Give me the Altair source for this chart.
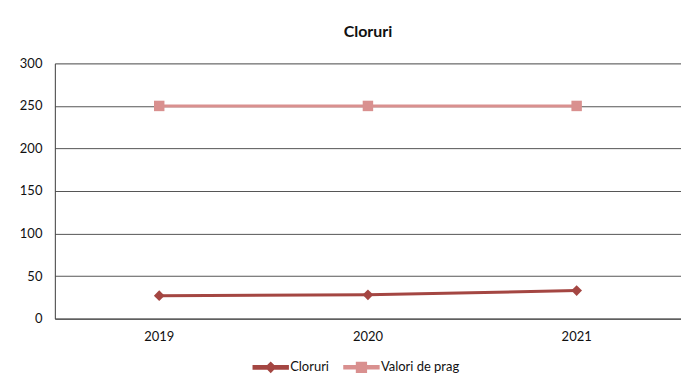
import altair as alt
import pandas as pd

years = ["2019", "2020", "2021"]
cloruri = [27, 28, 33]
prag = [250, 250, 250]
series = ["Cloruri", "Valori de prag"]
colors = ["#A44642", "#D9908F"]

rows = []
for y, v in zip(years, cloruri):
    rows.append({"An": y, "Valoare": v, "Serie": series[0]})
for y, v in zip(years, prag):
    rows.append({"An": y, "Valoare": v, "Serie": series[1]})
df = pd.DataFrame(rows)

FONT = "Lato"

# legend symbols: a short line with the series marker in the middle
leg_paths = [
    "M-1,-0.09H1V0.09H-1ZM-0.27,0L0,-0.27L0.27,0L0,0.27Z",
    "M-1,-0.09H1V0.09H-1ZM-0.28,-0.28H0.28V0.28H-0.28Z",
]

x = alt.X("An:N", title=None, sort=years,
          scale=alt.Scale(type="band", paddingInner=0, paddingOuter=0),
          axis=alt.Axis(labelAngle=0, ticks=False, grid=False, domainColor="#444",
                        labelFont=FONT, labelFontSize=13, labelColor="#111",
                        labelPadding=12))
y = alt.Y("Valoare:Q", title=None,
          scale=alt.Scale(domain=[0, 300], nice=False),
          axis=alt.Axis(values=[0, 50, 100, 150, 200, 250, 300], ticks=False,
                        gridColor="#555", gridWidth=1, domainColor="#444",
                        labelFont=FONT, labelFontSize=13, labelColor="#111",
                        labelPadding=13))

cscale = alt.Scale(domain=series, range=colors)

legend = alt.Legend(title=None, orient="none", legendX=198, legendY=286,
                    direction="horizontal",
                    labelFont=FONT, labelFontSize=13, labelColor="#111",
                    symbolSize=1225, columnPadding=12, labelOffset=1)

leg_layer = alt.Chart(df).transform_filter("false").mark_point(
    filled=True, opacity=1).encode(
    x=x, y=y,
    color=alt.Color("Serie:N", scale=cscale, legend=legend),
    shape=alt.Shape("Serie:N", scale=alt.Scale(domain=series, range=leg_paths), legend=legend),
)

color_plain = alt.Color("Serie:N", scale=cscale)

lines = alt.Chart(df).mark_line(strokeWidth=3).encode(x=x, y=y, color=color_plain)

pts_c = alt.Chart(df).transform_filter(alt.datum.Serie == series[0]).mark_point(
    filled=True, size=115, opacity=1, shape="diamond").encode(x=x, y=y, color=color_plain)
pts_p = alt.Chart(df).transform_filter(alt.datum.Serie == series[1]).mark_point(
    filled=True, size=110, opacity=1, shape="square").encode(x=x, y=y, color=color_plain)

chart = alt.layer(leg_layer, lines, pts_c, pts_p).properties(
    width=628, height=256,
    padding={"left": 11, "top": 16, "right": 0, "bottom": 5},
    title=alt.TitleParams("Cloruri", font=FONT, fontSize=16, fontWeight="bold",
                          color="#111", anchor="middle", offset=17),
).configure_view(stroke=None).configure(background="white")

chart.save("out.html", embed_options={"renderer": "svg", "actions": False})
